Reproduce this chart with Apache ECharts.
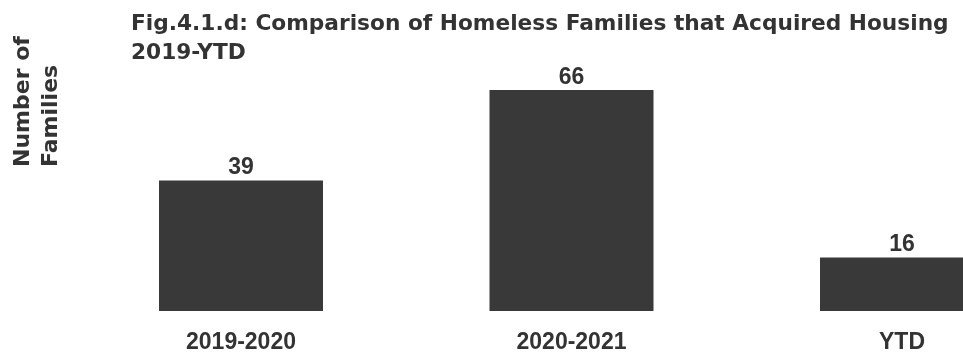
<!DOCTYPE html>
<html>
<head>
<meta charset="utf-8">
<script src="https://cdn.jsdelivr.net/npm/echarts@6/dist/echarts.min.js"></script>
<style>
html,body{margin:0;padding:0;background:#fff;}
#chart{width:963px;height:354px;}
</style>
</head>
<body>
<div id="chart"></div>
<script>
const categories = ['2019-2020', '2020-2021', 'YTD'];
const families = [39, 66, 16];
const titleLines = ['Fig.4.1.d: Comparison of Homeless Families that Acquired Housing', '2019-YTD'];
const yAxisTitle = ['Number of', 'Families'];

const chart = echarts.init(document.getElementById('chart'));
chart.setOption({
  backgroundColor: '#ffffff',
  animation: false,
  title: {
    text: titleLines.join('\n'),
    left: 126,
    top: 5,
    textStyle: {
      fontFamily: 'DejaVu Sans',
      fontWeight: 'bold',
      fontSize: 21.7,
      lineHeight: 29,
      color: '#333333'
    }
  },
  graphic: [{
    type: 'text',
    x: 9,
    y: 167,
    rotation: Math.PI / 2,
    style: {
      text: yAxisTitle.join('\n'),
      font: 'bold 22px "DejaVu Sans"',
      lineHeight: 28,
      fill: '#333333',
      textAlign: 'left',
      textVerticalAlign: 'top'
    }
  }],
  grid: {
    left: 75.75,
    width: 991.5,
    top: 76.6,
    bottom: 43,
    containLabel: false,
    outerBoundsMode: 'none'
  },
  xAxis: {
    type: 'category',
    data: categories,
    axisLine: { show: false },
    axisTick: { show: false },
    axisLabel: {
      margin: 20,
      fontFamily: 'Liberation Sans, Arial, sans-serif',
      fontWeight: 'bold',
      fontSize: 23,
      color: '#333333'
    }
  },
  yAxis: {
    type: 'value',
    min: 0,
    max: 70,
    show: false,
    splitLine: { show: false }
  },
  series: [{
    type: 'bar',
    data: families,
    barWidth: 164,
    itemStyle: { color: '#393939' },
    label: {
      show: true,
      position: 'top',
      distance: 1,
      fontFamily: 'Liberation Sans, Arial, sans-serif',
      fontWeight: 'bold',
      fontSize: 23,
      color: '#333333'
    }
  }]
});
</script>
</body>
</html>
